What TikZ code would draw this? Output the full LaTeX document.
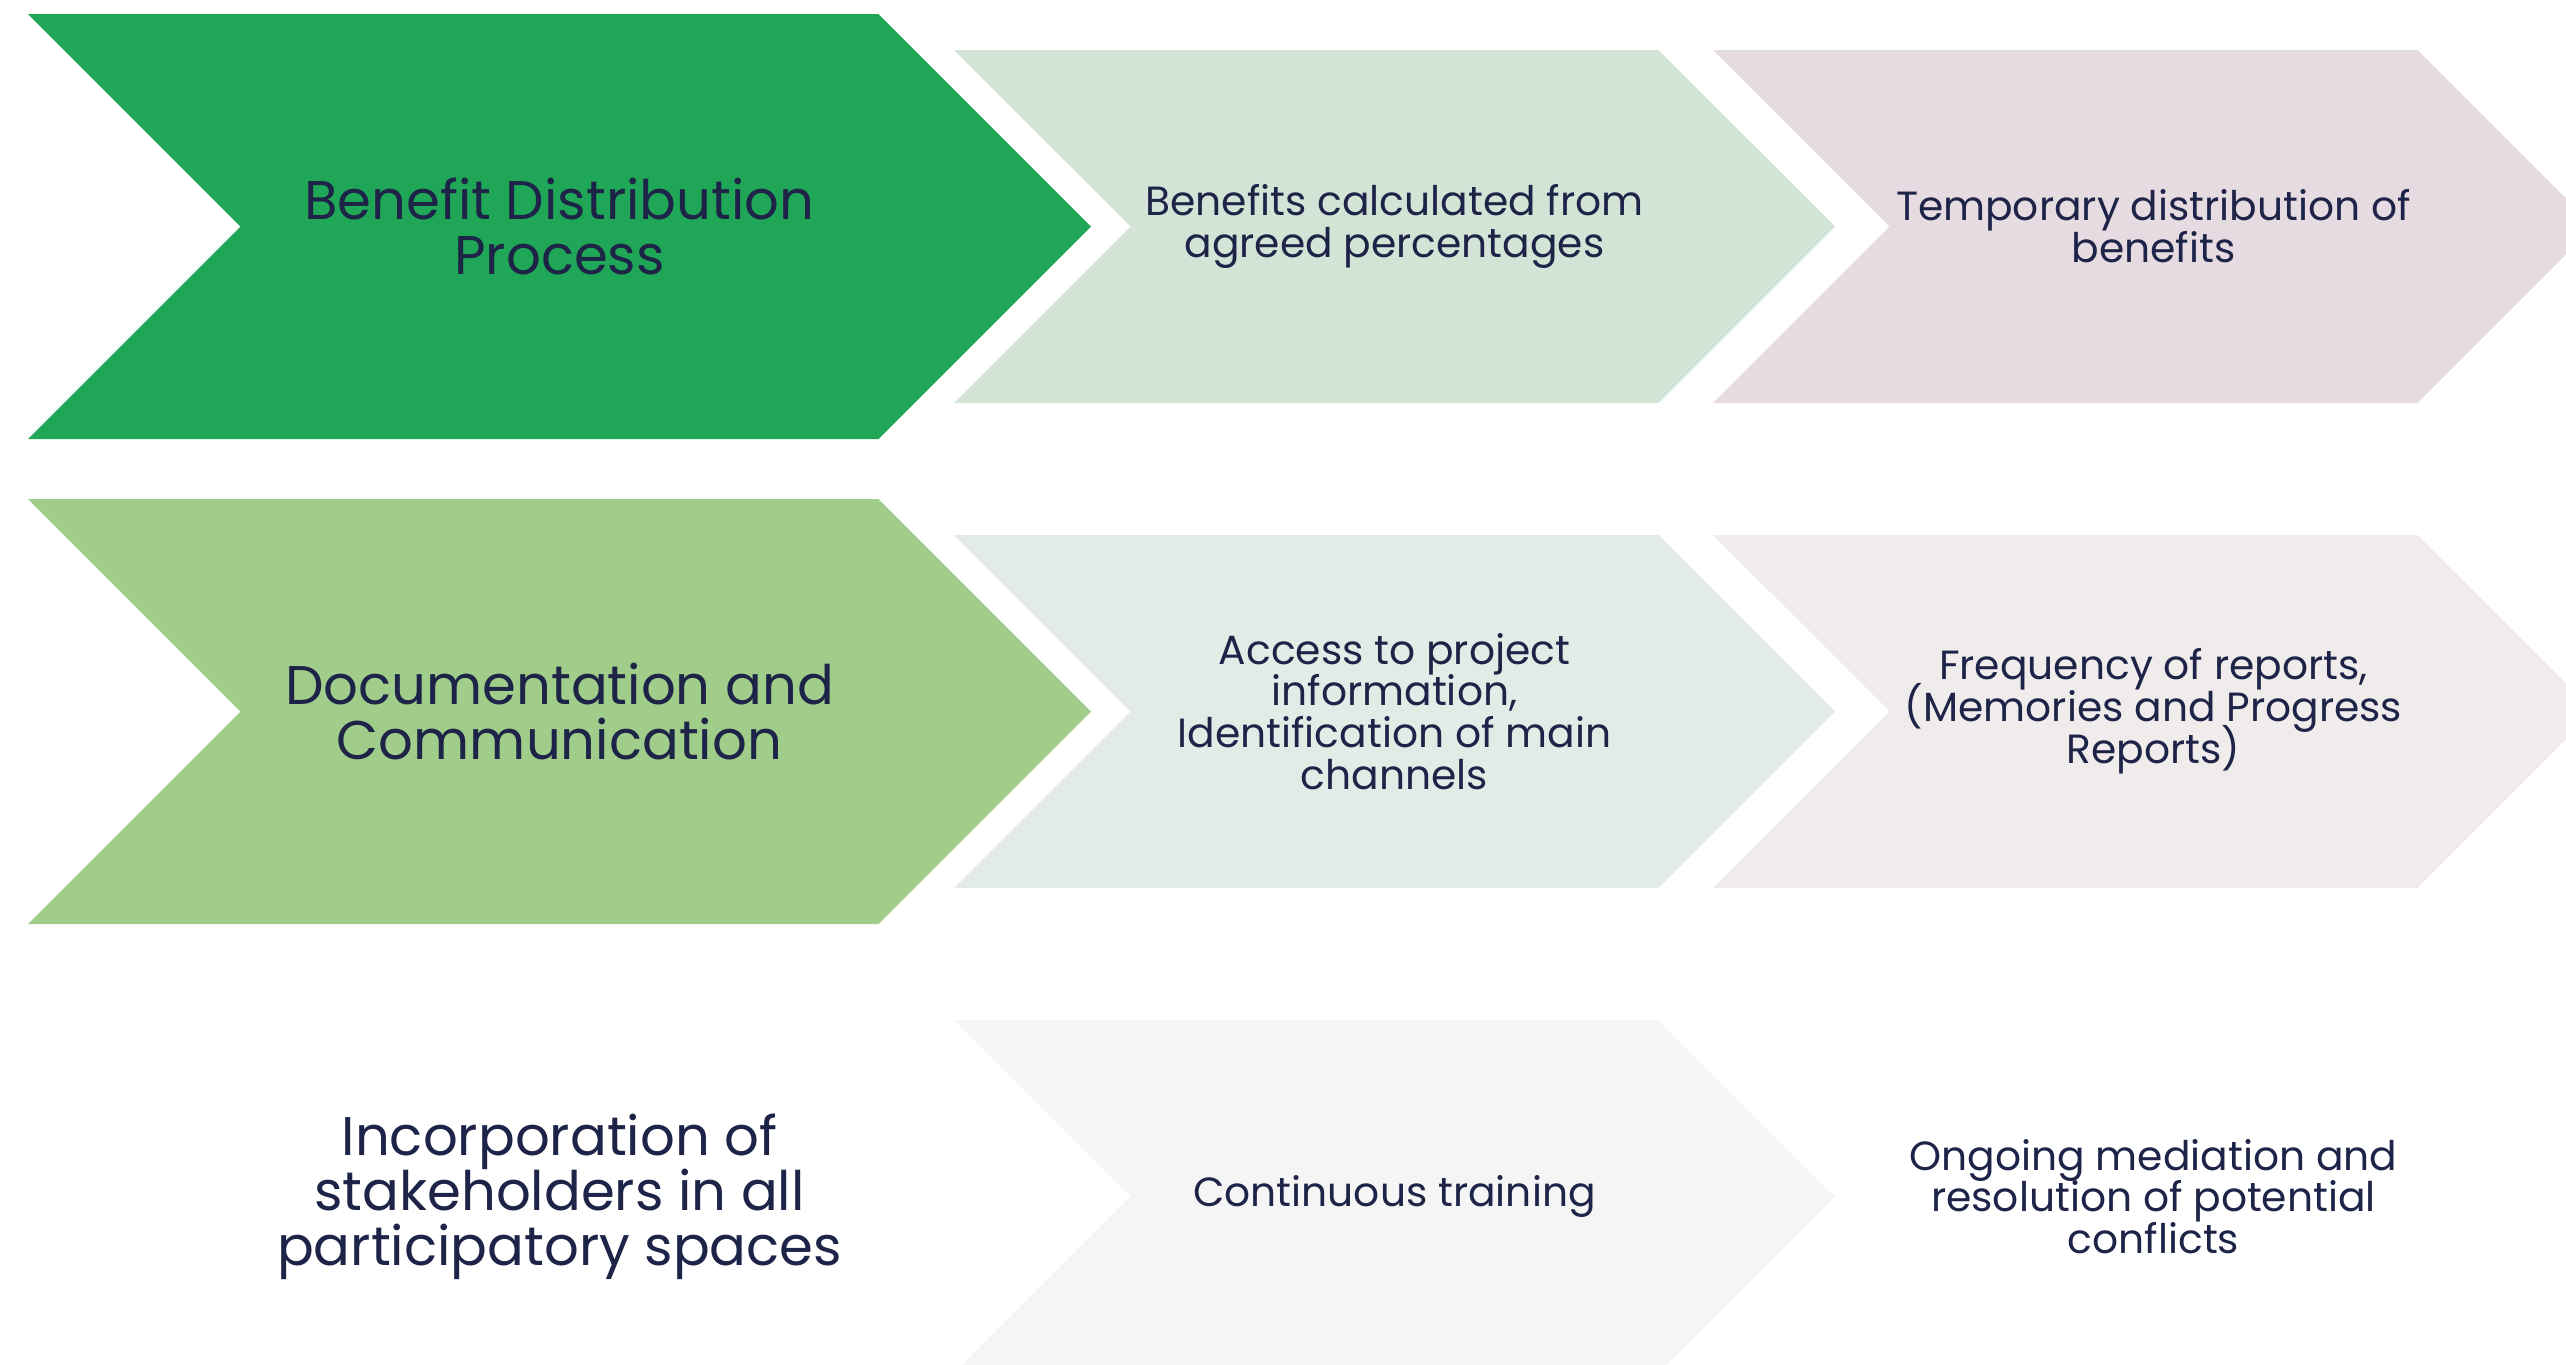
\documentclass[tikz,border=0pt]{standalone}
\usepackage{fontspec}
\setmainfont{Poppins}
\def\rowsep{4.85cm}
\def\colsep{7.59cm}
\def\headfont{\fontsize{15.5}{15.6}\selectfont\lineskiplimit=-20pt\relax}
\def\stagefont{\fontsize{11.6}{11.9}\selectfont\lineskiplimit=-20pt\relax}
\usepackage{tikz}
\usetikzlibrary{shapes.symbols}

\definecolor{navy}{HTML}{1E2448}
\definecolor{leafgreen}{HTML}{1FA757}
\definecolor{softgreen}{HTML}{A1CD8A}
\definecolor{mintA}{HTML}{D3E4D7}
\definecolor{mintB}{HTML}{E3EBE7}
\definecolor{mauveA}{HTML}{E6DBE1}
\definecolor{mauveB}{HTML}{F0ECEC}
\definecolor{greyA}{HTML}{F5F5F5}

\begin{document}
\begin{tikzpicture}[node distance=\rowsep, chevron/.style={signal,signal from=west,signal to=east,signal pointer angle=90,inner sep=0pt,align=center,text=navy}]
	\tikzstyle{head}=[chevron,minimum width=10.63cm,minimum height=4.25cm,font=\headfont]
	\tikzstyle{stage}=[chevron,minimum width=8.81cm,minimum height=3.53cm,font=\stagefont]
	
	\useasboundingbox (0,0) rectangle (25.66,-13.64);
	
	% Draw the heads of the rows
	\node[head, fill=leafgreen] (H-1) at (5.595,-2.265) {Benefit Distribution\\Process};
	\node[head, fill=softgreen, below of=H-1] (H-2) {Documentation and\\Communication};
	\node[head, fill=white, below of=H-2] (H-3) {Incorporation of\\stakeholders in all\\participatory spaces};
	
	% Draw the first stages
	\node[stage, fill=mintA, right of=H-1, node distance=8.35cm] (A-1) {Benefits calculated from\\agreed percentages};
	\node[stage, fill=mintB, right of=H-2, node distance=8.35cm] (A-2) {Access to project\\information,\\Identification of main\\channels};
	\node[stage, fill=greyA, right of=H-3, node distance=8.35cm] (A-3) {Continuous training};
	
	% Draw the second stages
	\node[stage, fill=mauveA, right of=A-1, node distance=\colsep] (B-1) {Temporary distribution of\\benefits};
	\node[stage, fill=mauveB, right of=A-2, node distance=\colsep] (B-2) {Frequency of reports,\\(Memories and Progress\\Reports)};
	\node[stage, fill=white, right of=A-3, node distance=\colsep] (B-3) {Ongoing mediation and\\resolution of potential\\conflicts};
	
\end{tikzpicture}
\end{document}
